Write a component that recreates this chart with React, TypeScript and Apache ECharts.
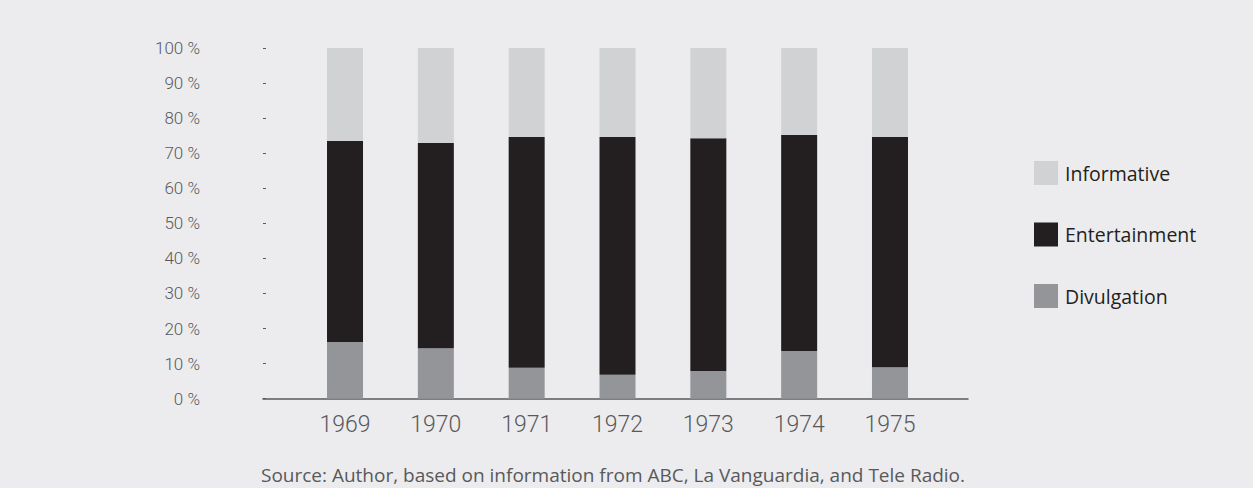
import React, { useEffect, useRef } from "react";
import * as echarts from "echarts";

const years = ["1969", "1970", "1971", "1972", "1973", "1974", "1975"];
const divulgation = [16.2, 14.4, 8.8, 6.8, 7.9, 13.6, 9.0];
const entertainment = [57.3, 58.5, 65.8, 67.8, 66.4, 61.6, 65.6];
const informative = [26.5, 27.1, 25.4, 25.4, 25.7, 24.8, 25.4];
const sourceNote = "Source: Author, based on information from ABC, La Vanguardia, and Tele Radio.";

const BG = "#ececee";
const C_INF = "#d1d2d4";
const C_ENT = "#231f20";
const C_DIV = "#939598";
const AXIS = "#58595b";
const NARROW = "'Roboto', sans-serif";
const SANS = "'Open Sans', 'Noto Sans', sans-serif";

export default function App() {
  const ref = useRef<HTMLDivElement>(null);
  useEffect(() => {
    document.body.style.margin = "0";
    document.body.style.background = BG;
    const chart = echarts.init(ref.current!, null, { renderer: "svg" });
    chart.setOption({
      animation: false,
      backgroundColor: BG,
      grid: [
        { left: 299.6, right: 317.6, top: 48, bottom: 89.3 },
        { left: 263, right: 285, top: 48, bottom: 89.3 },
      ],
      legend: {
        orient: "vertical",
        left: 1029,
        top: 156,
        itemWidth: 24,
        itemHeight: 24,
        itemGap: 37.5,
        icon: "rect",
        data: ["Informative", "Entertainment", "Divulgation"],
        textStyle: { fontFamily: SANS, fontSize: 19.5, color: C_ENT, padding: [0, 0, 0, 2] },
      },
      xAxis: [
        {
          type: "category",
          gridIndex: 0,
          data: years,
          axisLine: { show: false },
          axisTick: { show: false },
          axisLabel: { fontFamily: NARROW, fontWeight: 300, fontSize: 23, color: AXIS, margin: 14 },
        },
        {
          type: "value",
          gridIndex: 1,
          min: 0,
          max: 1,
          axisLine: { show: true, lineStyle: { color: AXIS, width: 1.5 } },
          axisTick: { show: false },
          axisLabel: { show: false },
          splitLine: { show: false },
        },
      ],
      yAxis: [
        {
          type: "value",
          gridIndex: 0,
          min: 0,
          max: 100,
          interval: 10,
          show: false,
          splitLine: { show: false },
        },
        {
          type: "value",
          gridIndex: 1,
          min: 0,
          max: 100,
          interval: 10,
          axisLine: { show: false },
          axisTick: { show: true, inside: true, length: 3, lineStyle: { color: AXIS, width: 1 } },
          splitLine: { show: false },
          axisLabel: {
            formatter: "{value} %",
            fontFamily: NARROW,
            fontWeight: 300,
            fontSize: 17,
            color: AXIS,
            margin: 63,
          },
        },
      ],
      series: [
        {
          name: "Divulgation",
          type: "bar",
          stack: "total",
          xAxisIndex: 0,
          yAxisIndex: 0,
          barWidth: 36,
          itemStyle: { color: C_DIV },
          data: divulgation,
        },
        {
          name: "Entertainment",
          type: "bar",
          stack: "total",
          xAxisIndex: 0,
          yAxisIndex: 0,
          barWidth: 36,
          itemStyle: { color: C_ENT },
          data: entertainment,
        },
        {
          name: "Informative",
          type: "bar",
          stack: "total",
          xAxisIndex: 0,
          yAxisIndex: 0,
          barWidth: 36,
          itemStyle: { color: C_INF },
          data: informative,
        },
      ],
      graphic: [
        {
          type: "text",
          x: 613,
          y: 484,
          style: {
            text: sourceNote,
            fontFamily: SANS,
            fontSize: 19,
            fill: AXIS,
            textAlign: "center",
            textVerticalAlign: "bottom",
          },
        },
      ],
    });
    return () => chart.dispose();
  }, []);
  return (
    <div
      ref={ref}
      style={{ position: "fixed", left: 0, top: 0, width: 1253, height: 488, background: BG }}
    />
  );
}
